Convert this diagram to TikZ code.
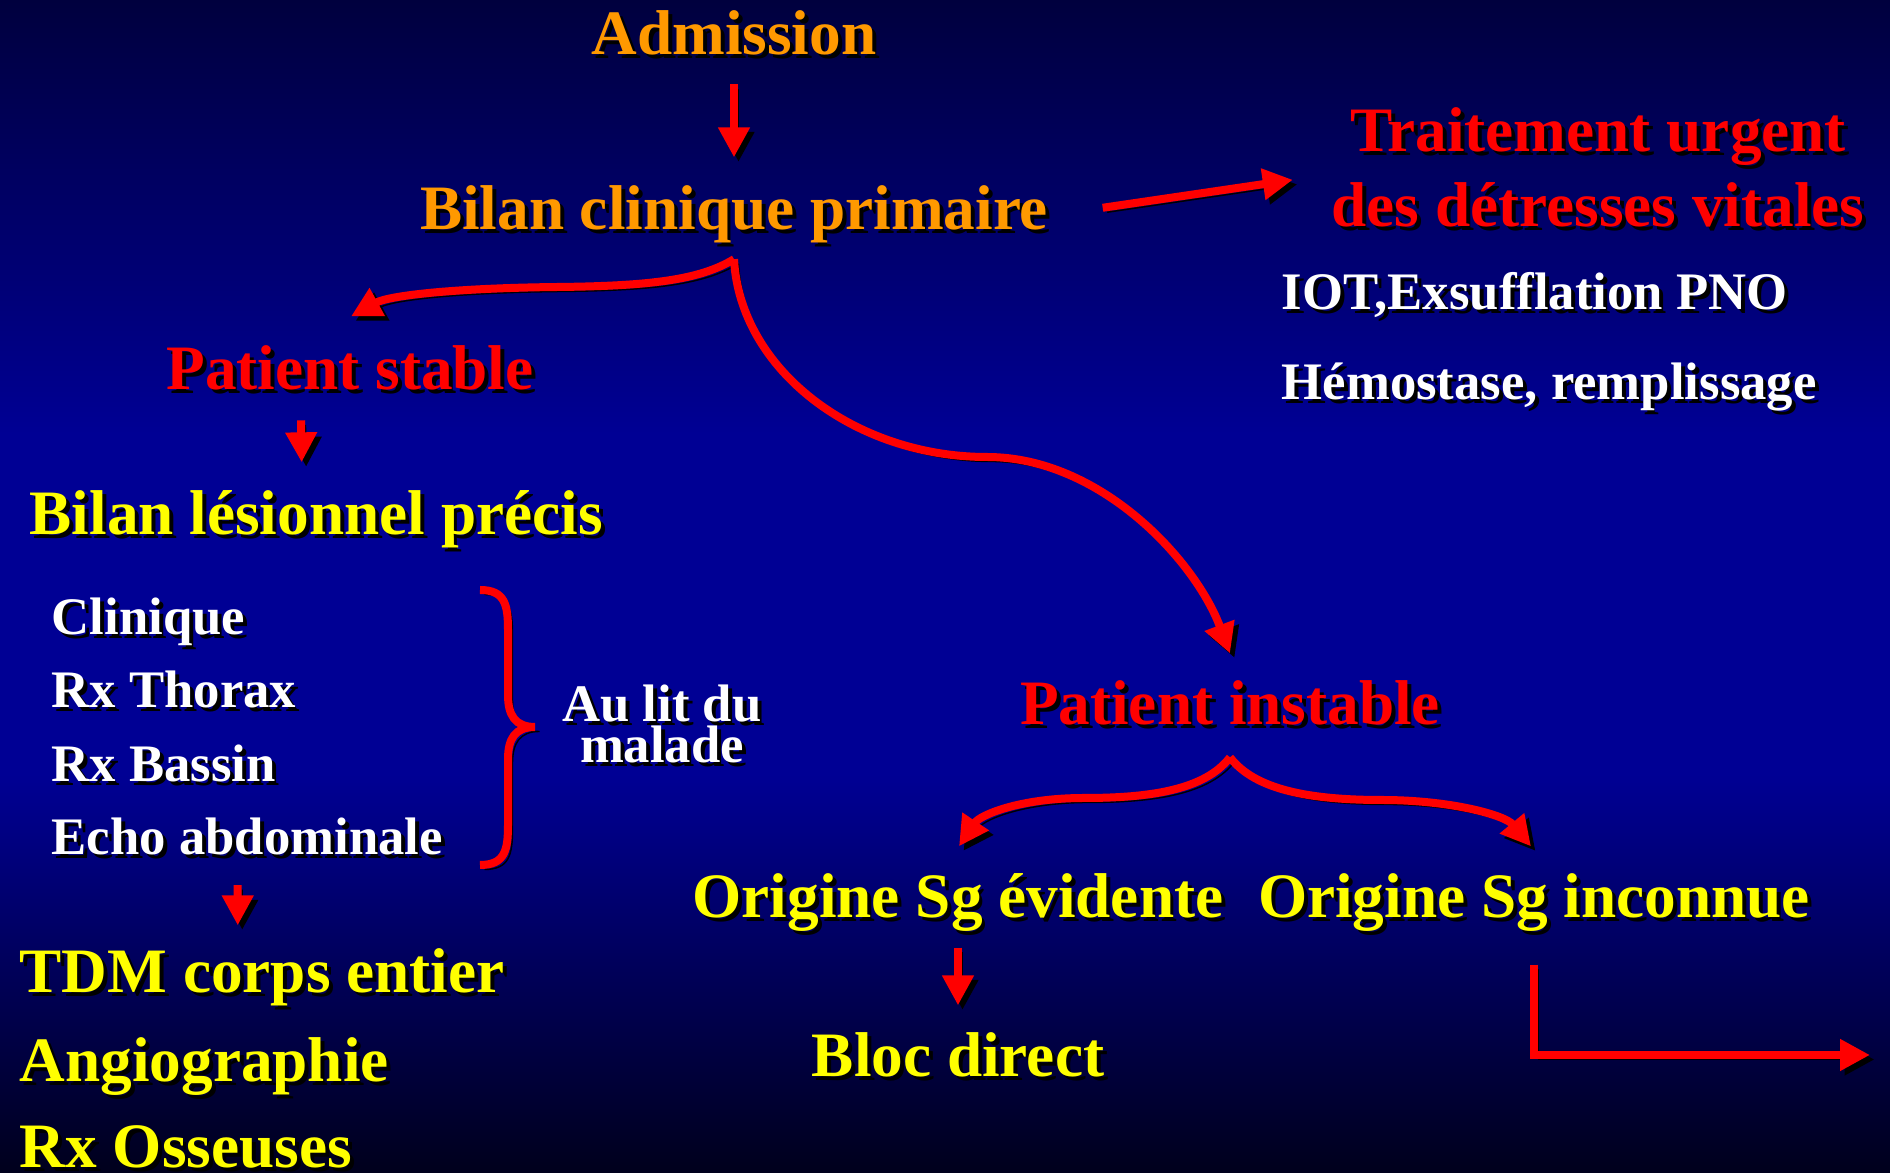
\documentclass[tikz,border=0pt]{standalone}
\usepackage{fontspec}
\setmainfont{Liberation Serif}
\usepackage{tikz}
\usetikzlibrary{arrows.meta,calc}
\usepackage{xcolor}

\definecolor{bgtop}{HTML}{00003E}
\definecolor{bgmid}{HTML}{000094}
\definecolor{bgbot}{HTML}{00001C}
\definecolor{flowred}{HTML}{FF0000}
\definecolor{floworange}{HTML}{FF9900}
\definecolor{flowyellow}{HTML}{FFFF00}

% slide background, 25bp..75bp is the visible part
\pgfdeclareverticalshading{slidebg}{100bp}{color(0bp)=(bgbot); color(25bp)=(bgbot);
    color(42bp)=(bgmid); color(56.5bp)=(bgmid); color(75bp)=(bgtop); color(100bp)=(bgtop)}

% text with a black drop shadow
\newcommand{\shd}[1]{\leavevmode\rlap{\kern0.4mm\raisebox{-0.4mm}{\color{black}#1}}#1}

\begin{document}
\begin{tikzpicture}[
    x=1cm, y=1cm,
    big/.style={inner sep=0pt, anchor=base, font=\fontsize{18}{21}\selectfont\bfseries},
    small/.style={inner sep=0pt, anchor=base west, text=white, font=\fontsize{15}{18}\selectfont\bfseries},
    arrow/.style={
        draw=flowred, line width=0.8mm,
        -{Triangle[length=3mm,width=3mm]},
        preaction={draw=black, transform canvas={shift={(0.45mm,-0.45mm)}}}
    },
    brace/.style={
        draw=flowred, line width=0.8mm,
        preaction={draw=black, transform canvas={shift={(0.45mm,-0.45mm)}}}
    }
]
% background
\shade[shading=slidebg] (0,0) rectangle (18.9,-11.73);

% top
\node[big, text=floworange] (adm) at (7.34,-0.55) {\shd{Admission}};
\node[big, text=floworange] (bcp) at (7.34,-2.30) {\shd{Bilan clinique primaire}};
\node[big, text=flowred] (trait1) at (15.98,-1.52) {\shd{Traitement urgent}};
\node[big, text=flowred] (trait2) at (15.98,-2.27) {\shd{des détresses vitales}};
\node[small] (iot) at (12.81,-3.10) {\shd{IOT,Exsufflation PNO}};
\node[small] (hemo) at (12.81,-4.00) {\shd{Hémostase, remplissage}};

% stable branch
\node[big, text=flowred] (pstable) at (3.50,-3.90) {\shd{Patient stable}};
\node[big, text=flowyellow, anchor=base west] (blp) at (0.29,-5.35) {\shd{Bilan lésionnel précis}};
\node[small] (clin) at (0.51,-6.35) {\shd{Clinique}};
\node[small] (thor) at (0.51,-7.08) {\shd{Rx Thorax}};
\node[small] (bass) at (0.51,-7.82) {\shd{Rx Bassin}};
\node[small] (echo) at (0.51,-8.55) {\shd{Echo abdominale}};
\node[small, anchor=base] (lit1) at (6.62,-7.22) {\shd{Au lit du}};
\node[small, anchor=base] (lit2) at (6.62,-7.63) {\shd{malade}};
\node[big, text=flowyellow, anchor=base west] (tdm) at (0.19,-9.93) {\shd{TDM corps entier}};
\node[big, text=flowyellow, anchor=base west] (angio) at (0.19,-10.82) {\shd{Angiographie}};
\node[big, text=flowyellow, anchor=base west] (rxoss) at (0.19,-11.68) {\shd{Rx Osseuses}};

% unstable branch
\node[big, text=flowred] (pinst) at (12.30,-7.25) {\shd{Patient instable}};
\node[big, text=flowyellow] (orig1) at (9.58,-9.18) {\shd{Origine Sg évidente}};
\node[big, text=flowyellow] (orig2) at (15.34,-9.18) {\shd{Origine Sg inconnue}};
\node[big, text=flowyellow] (bloc) at (9.58,-10.77) {\shd{Bloc direct}};

\coordinate (split) at ([yshift=-1.1mm]bcp.south);
\coordinate (split2) at ([yshift=-2.7mm]pinst.south);
\coordinate (exit) at (18.70,-10.55);

% straight arrows
\draw[arrow] ([yshift=-2.4mm]adm.south) -- ([yshift=2.8mm]bcp.north);
\draw[arrow] ([xshift=5.4mm,yshift=0.9mm]bcp.east) -- ([xshift=-3.8mm,yshift=2.75mm]trait2.west);
\draw[arrow] ([xshift=-4.9mm,yshift=-2.5mm]pstable.south) -- ([xshift=-1.45mm,yshift=2.8mm]blp.north);
\draw[arrow] ([xshift=-0.95mm,yshift=-2.5mm]echo.south) -- ([xshift=-2.44mm,yshift=2.3mm]tdm.north);
\draw[arrow] ([yshift=-1.1mm]orig1.south) -- ([yshift=2.7mm]bloc.north);
\draw[arrow] ([yshift=-2.8mm]orig2.south) |- (exit);

% curved arrows
\draw[arrow] (split) .. controls (7.00,-2.80) and (6.50,-2.86) .. (5.58,-2.87)
    .. controls (4.60,-2.88) and (3.90,-2.95) .. ([xshift=0.1mm,yshift=2.9mm]pstable.north);
\draw[arrow] (split) .. controls (7.40,-3.70) and (8.55,-4.57) .. (9.87,-4.57)
    .. controls (11.00,-4.57) and (11.95,-5.60) .. ([yshift=2.7mm]pinst.north);
\draw[arrow] (split2) .. controls (12.05,-7.90) and (11.50,-7.98) .. (10.84,-7.98)
    .. controls (10.20,-7.98) and (9.80,-8.15) .. ([xshift=0.1mm,yshift=2.7mm]orig1.north);
\draw[arrow] (split2) .. controls (12.55,-7.90) and (13.10,-8.00) .. (13.82,-8.00)
    .. controls (14.50,-8.00) and (15.05,-8.15) .. ([xshift=-0.3mm,yshift=2.7mm]orig2.north);

% brace
\draw[brace] (4.80,-5.90) .. controls (5.05,-5.90) and (5.08,-6.05) .. (5.08,-6.30)
    -- (5.08,-6.95) .. controls (5.08,-7.15) and (5.15,-7.27) .. (5.35,-7.27)
    .. controls (5.15,-7.27) and (5.08,-7.39) .. (5.08,-7.59)
    -- (5.08,-8.25) .. controls (5.08,-8.50) and (5.05,-8.65) .. (4.80,-8.65);
\end{tikzpicture}
\end{document}
